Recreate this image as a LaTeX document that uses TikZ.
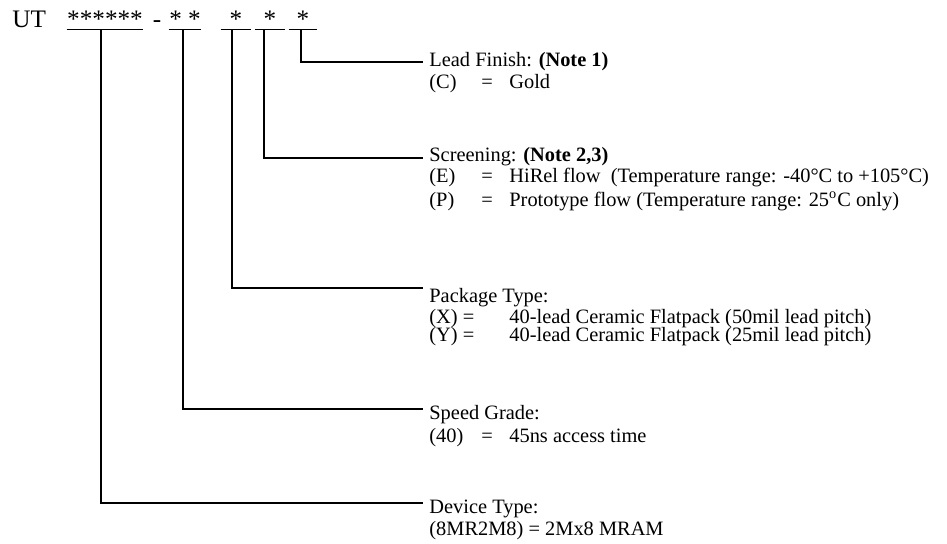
\documentclass[tikz,border=0pt]{standalone}
\usepackage{fontspec}
\setmainfont{Liberation Serif}
\usetikzlibrary{positioning}
\newcommand{\optrow}[3]{\makebox[26pt][l]{#1}\makebox[14pt][l]{#2}#3}

\begin{document}
\begin{tikzpicture}[x=0.5pt, y=-0.5pt,
  every node/.style={inner sep=0pt, font=\fontsize{10.2}{12}\selectfont},
  code/.style={font=\fontsize{12.6}{15}\selectfont, anchor=base},
  field/.style={code, minimum width=#1, text depth=1pt},
  txt/.style={anchor=base west},
  lead/.style={line width=0.6pt}]
  \useasboundingbox (0,0) rectangle (947,543);

  % part number
  \node[code, anchor=base west] (ut) at (12,27) {UT};
  \node[field=38pt] (dev) at (105,27) {******};
  \node[code] (dash) at (157,27) {-};
  \node[field=16pt] (spd) at (185,27) {* *};
  \node[field=15pt] (pkg) at (236,27) {*};
  \node[field=15pt] (scr) at (270,27) {*};
  \node[field=14pt] (fin) at (303,27) {*};
  \foreach \f in {dev,spd,pkg,scr,fin}
    \draw[lead] (\f.south west) -- (\f.south east);

  % ends of the leads
  \coordinate (e-fin) at (423,62);
  \coordinate (e-scr) at (423,158);
  \coordinate (e-pkg) at (423,288);
  \coordinate (e-spd) at (423,409);
  \coordinate (e-dev) at (423,503);

  \draw[lead] ([xshift=-1]fin.south) |- (e-fin);
  \draw[lead] ([xshift=-3]scr.south) |- (e-scr);
  \draw[lead] ([xshift=-2]pkg.south) |- (e-pkg);
  \draw[lead] ([xshift=-1]spd.south) |- (e-spd);
  \draw[lead] ([xshift=-2]dev.south) |- (e-dev);

  % lead finish
  \node[txt] (fin-t) at (429,66) {Lead Finish: \textbf{(Note 1)}};
  \node[txt] (fin-c) at (429,88) {\optrow{(C)}{=}{Gold}};

  % screening
  \node[txt] (scr-t) at (429,161) {Screening: \textbf{(Note 2,3)}};
  \node[txt] (scr-e) at (429,182) {\optrow{(E)}{=}{HiRel flow\ \ (Temperature range: -40°C to +105°C)}};
  \node[txt] (scr-p) at (429,206) {\optrow{(P)}{=}{Prototype flow (Temperature range: 25\textsuperscript{o}C only)}};

  % package
  \node[txt] (pkg-t) at (429,302) {Package Type:};
  \node[txt] (pkg-x) at (429,323) {\optrow{(X) =}{}{40-lead Ceramic Flatpack (50mil lead pitch)}};
  \node[txt] (pkg-y) at (429,341) {\optrow{(Y) =}{}{40-lead Ceramic Flatpack (25mil lead pitch)}};

  % speed grade
  \node[txt] (spd-t) at (429,419) {Speed Grade:};
  \node[txt] (spd-a) at (429,442) {\optrow{(40)}{=}{45ns access time}};

  % device type
  \node[txt] (dev-t) at (429,513) {Device Type:};
  \node[txt] (dev-a) at (429,535) {(8MR2M8) = 2Mx8 MRAM};
\end{tikzpicture}
\end{document}
